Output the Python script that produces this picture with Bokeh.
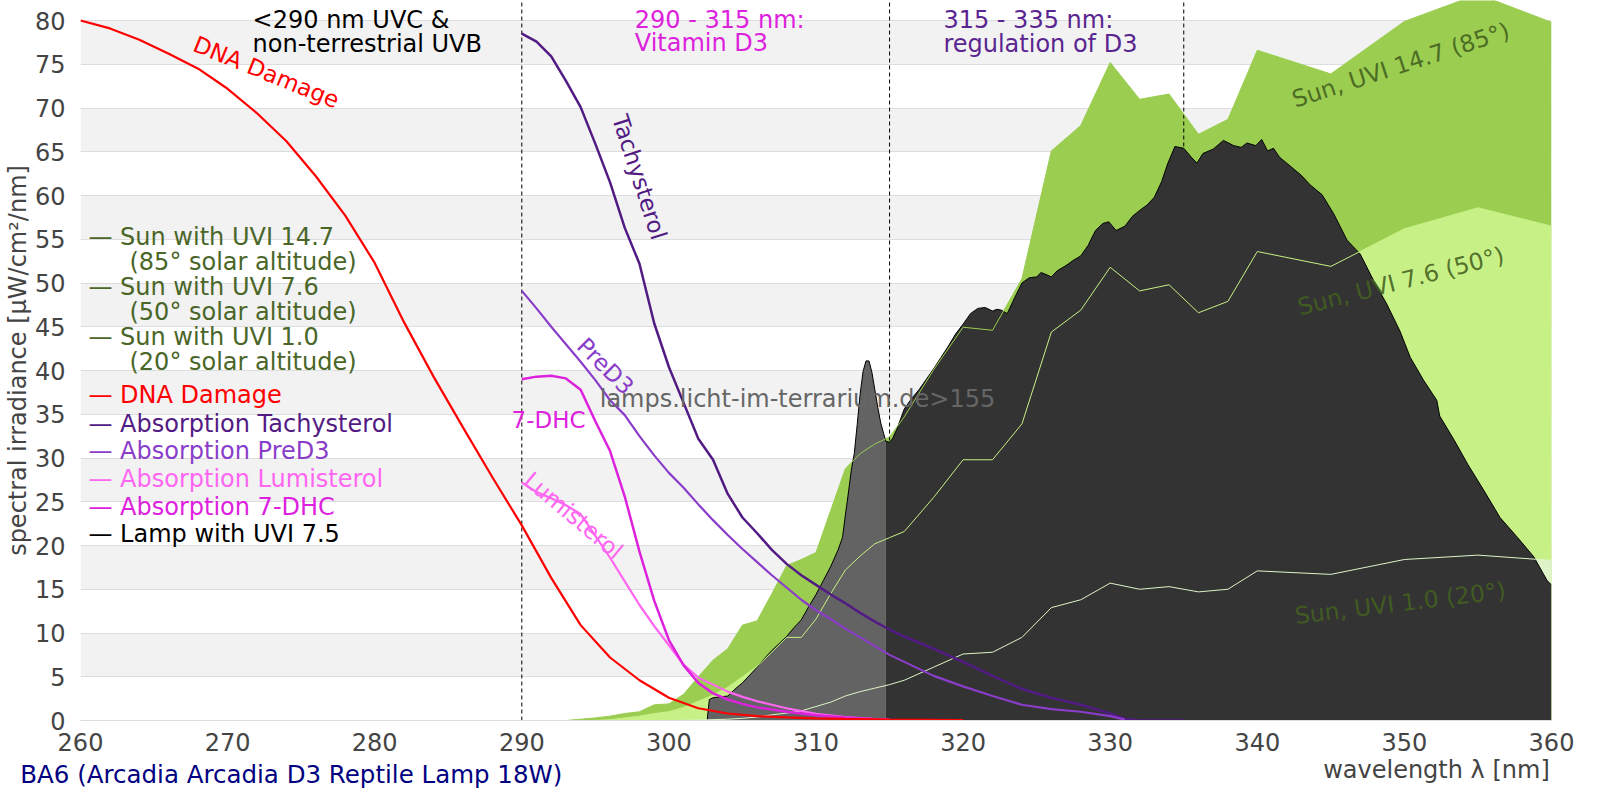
from bokeh.plotting import figure
from bokeh.models import Range1d, FixedTicker, Label, LinearAxis
from bokeh.embed import file_html
from bokeh.resources import INLINE

FONT = "DejaVu Sans"

# ---------------- data ----------------
x_ticks = [260, 270, 280, 290, 300, 310, 320, 330, 340, 350, 360]
y_ticks = [0, 5, 10, 15, 20, 25, 30, 35, 40, 45, 50, 55, 60, 65, 70, 75, 80]
band_edges = [290, 315, 335]

sun147_x = [293, 294, 295, 296, 297, 298, 299, 300, 301, 302, 303, 304, 305, 306, 307, 308, 309, 310,
            311, 312, 313, 314, 315, 316, 318, 320, 322, 324, 326, 328, 330, 332, 334, 336, 338, 340,
            345, 350, 355, 360]
sun147_y = [0, 0.15, 0.3, 0.5, 0.8, 1.0, 1.8, 1.9, 3.0, 5.0, 6.9, 8.2, 10.9, 11.4, 14.5, 17.7, 18.4, 19.2,
            24.0, 28.8, 30.5, 31.6, 32.4, 34.7, 40.1, 44.95, 44.6, 50.5, 65.1, 68.0, 75.2, 71.0, 71.6, 67.0,
            68.7, 76.6, 73.9, 79.9, 83.0, 79.8]

sun76_x = [295, 296, 297, 298, 299, 300, 301, 302, 303, 304, 305, 306, 307, 308, 309, 310, 311, 312,
           313, 314, 315, 316, 318, 320, 322, 324, 326, 328, 330, 332, 334, 336, 338, 340, 345, 350,
           355, 360]
sun76_y = [0, 0.1, 0.3, 0.5, 0.8, 1.0, 1.5, 2.2, 2.9, 3.8, 5.0, 6.2, 7.8, 9.5, 9.5, 11.6, 14.5, 17.2,
           18.8, 20.2, 20.9, 21.6, 25.5, 29.8, 29.8, 33.9, 44.4, 46.9, 51.8, 49.1, 49.8, 46.6, 47.9, 53.6,
           51.9, 56.2, 58.6, 56.5]

sun10_x = [300, 302, 304, 305, 306, 307, 308, 309, 310, 311, 312, 313, 314, 315, 316, 318, 320, 322,
           324, 326, 328, 330, 332, 334, 336, 338, 340, 345, 350, 355, 360]
sun10_y = [0, 0.05, 0.15, 0.25, 0.4, 0.65, 0.85, 1.1, 1.6, 2.1, 2.8, 3.3, 3.7, 4.1, 4.6, 6.1, 7.6, 7.8,
           9.5, 12.9, 13.8, 15.7, 15.0, 15.3, 14.7, 15.0, 17.1, 16.7, 18.4, 18.9, 18.3]

lamp_x = [302.6, 302.75, 303.0, 303.5, 304.0, 304.5, 305.0, 305.5, 306.0, 306.5, 307.0, 307.5, 308.0,
          308.5, 309.0, 309.5, 310.0, 310.5, 311.0, 311.5, 311.8, 312.0, 312.2, 312.4, 312.6, 312.8,
          313.0, 313.2, 313.4, 313.6, 313.8, 314.0, 314.2, 314.4, 314.6, 314.75, 315.0, 315.2, 315.5,
          316.0, 316.5, 317.0, 317.5, 318.0, 318.5, 319.0, 319.5, 320.0, 320.5, 321.0, 321.5, 322.0,
          322.3, 322.6, 323.0, 323.5, 324.0, 324.5, 325.0, 325.3, 325.6, 326.0, 326.4, 327.0, 327.5,
          328.0, 328.5, 329.0, 329.5, 329.9, 330.4, 331.0, 331.5, 332.0, 332.5, 333.0, 333.5, 333.9,
          334.4, 335.0, 335.5, 335.9, 336.3, 337.0, 337.7, 338.4, 338.9, 339.3, 339.9, 340.3, 340.7,
          341.1, 341.5, 342.0, 342.5, 343.0, 343.6, 344.4, 345.2, 346.1, 347.0, 347.9, 348.8, 349.7,
          350.4, 351.3, 352.2, 352.4, 353.4, 354.3, 355.4, 356.5, 357.7, 358.8, 359.7, 360.0]
lamp_y = [0, 2.4, 2.6, 2.7, 2.8, 3.6, 4.3, 5.2, 6.1, 7.1, 8.0, 8.8, 9.6, 10.6, 11.5, 13.0, 14.4, 16.0,
          17.6, 19.5, 20.9, 23.5, 26.0, 28.6, 30.5, 33.8, 37.3, 39.9, 41.1, 41.1, 39.8, 37.8, 35.8, 34.0,
          32.8, 31.9, 31.8, 32.2, 33.3, 35.6, 36.8, 37.8, 39.0, 40.2, 41.5, 42.8, 44.2, 45.3, 46.5, 47.1,
          47.2, 46.8, 47.0, 46.9, 46.5, 48.3, 50.0, 50.6, 50.7, 51.2, 51.0, 50.7, 51.4, 52.0, 52.6, 53.1,
          54.3, 56.0, 56.8, 57.0, 56.0, 56.5, 57.6, 58.3, 58.9, 59.8, 61.6, 63.6, 65.6, 65.4, 64.4, 63.7,
          64.8, 65.3, 66.3, 65.7, 65.5, 66.0, 65.7, 66.4, 65.1, 65.4, 64.4, 63.7, 63.0, 62.3, 61.2, 60.1,
          57.9, 54.9, 53.3, 50.3, 47.6, 44.5, 41.5, 38.9, 36.6, 34.8, 32.0, 29.3, 26.3, 23.2, 20.9, 18.7,
          16.0, 15.5]

dna_x = [260, 262, 264, 266, 268, 270, 272, 274, 276, 278, 280, 282, 284, 286, 288, 290, 292, 294, 296,
         298, 300, 302, 304, 306, 308, 310, 312, 315, 320]
dna_y = [80, 79.1, 77.8, 76.2, 74.5, 72.2, 69.4, 66.2, 62.2, 57.7, 52.3, 45.5, 39.3, 33.5, 27.8, 22.3,
         16.3, 10.9, 7.2, 4.6, 2.6, 1.4, 0.8, 0.5, 0.35, 0.25, 0.18, 0.1, 0.05]

tachy_x = [290, 291, 292, 293, 294, 295, 296, 297, 298, 299, 300, 301, 302, 303, 304, 305, 306, 307, 308,
           309, 310, 311, 312, 313, 314, 315, 316, 318, 320, 322, 324, 326, 328, 329, 330, 331, 332, 335]
tachy_y = [78.5, 77.6, 75.9, 73.1, 70.1, 65.9, 61.5, 56.3, 52.2, 45.4, 40.4, 36.3, 32.2, 29.8, 25.9, 23.2,
           21.4, 19.5, 17.9, 16.6, 15.5, 14.4, 13.4, 12.3, 11.3, 10.4, 9.6, 8.2, 6.7, 5.1, 3.6, 2.6, 1.8,
           1.3, 0.8, 0.2, 0.0, 0.0]

pred3_x = [290, 291, 292, 293, 294, 295, 296, 297, 298, 299, 300, 301, 302, 303, 304, 305, 306, 307, 308,
           309, 310, 311, 312, 313, 314, 315, 316, 318, 320, 322, 324, 326, 328, 330, 331]
pred3_y = [49.1, 47.1, 45.0, 43.0, 41.0, 38.9, 36.6, 34.9, 32.5, 30.3, 28.3, 26.6, 24.7, 22.9, 21.2, 19.6,
           18.1, 16.6, 15.2, 13.8, 12.6, 11.6, 10.5, 9.5, 8.5, 7.5, 6.7, 5.1, 3.9, 2.8, 1.8, 1.3, 1.0, 0.5,
           0.1]

dhc_x = [290, 291, 292, 293, 294, 295, 296, 297, 298, 299, 300, 301, 302, 303, 304, 305, 306, 308, 310,
         312, 314, 315]
dhc_y = [39.0, 39.3, 39.4, 39.1, 37.8, 34.2, 30.8, 25.6, 19.3, 13.7, 9.2, 6.3, 4.3, 3.1, 2.4, 1.9, 1.5,
         1.0, 0.6, 0.35, 0.15, 0.1]

lumi_x = [290, 291, 292, 293, 294, 295, 296, 297, 298, 299, 300, 301, 302, 303, 304, 305, 306, 307, 308,
          310, 312, 314, 315]
lumi_y = [27.2, 26.1, 25.4, 24.6, 23.6, 21.1, 18.6, 15.9, 13.2, 10.8, 8.6, 6.4, 4.9, 4.1, 3.3, 2.7, 2.2,
          1.8, 1.4, 0.75, 0.4, 0.15, 0.1]

x_title = "wavelength λ [nm]"
lamp_title = "BA6 (Arcadia Arcadia D3 Reptile Lamp 18W)"

# ---------------- styles ----------------
SUN147 = "#9ACD50"
SUN76 = "#C7F086"
SUN10 = "#DFF3C8"
LAMP_UVB = "#636363"
LAMP = "#333333"
DNA = "#FF0000"
TACHY = "#521B84"
PRED3 = "#8A3DC9"
LUMI = "#FF66F2"
DHC = "#DD22DD"
OLIVE = "#4A6628"
SUNLABEL = "#43601F"
AXIS_TXT = "#444444"

Y_TOP = 82.29
X_TITLE_POS = 352.18    # centre of the right-aligned x-axis caption
LAMP_TITLE_POS = 274.33  # centre of the lamp caption

p = figure(width=1600, height=800, output_backend="svg", toolbar_location=None,
           x_range=Range1d(260, 360), y_range=Range1d(0, Y_TOP),
           min_border_left=80, min_border_right=49, min_border_top=0, min_border_bottom=80)
p.background_fill_color = "white"
p.border_fill_color = "white"
p.outline_line_color = None

yt = FixedTicker(ticks=y_ticks)
xt = FixedTicker(ticks=x_ticks)
p.yaxis.ticker = yt
p.xaxis.ticker = xt
p.ygrid.ticker = yt
p.ygrid.grid_line_color = "#dddddd"
p.ygrid.band_fill_color = "#f2f2f2"
p.ygrid.band_fill_alpha = 1.0
p.xgrid.grid_line_color = None

for ax in (p.xaxis[0], p.yaxis[0]):
    ax.major_tick_line_color = None
    ax.minor_tick_line_color = None
    ax.major_label_text_font = FONT
    ax.major_label_text_font_size = "24px"
    ax.major_label_text_color = AXIS_TXT
p.yaxis.axis_line_color = None
p.xaxis.axis_line_color = "#dddddd"
p.xaxis.major_label_standoff = 6
p.yaxis.major_label_standoff = 9
p.yaxis.axis_label = "spectral irradiance [µW/cm²/nm]"
p.yaxis.axis_label_text_font = FONT
p.yaxis.axis_label_text_font_size = "24px"
p.yaxis.axis_label_text_font_style = "normal"
p.yaxis.axis_label_text_color = AXIS_TXT
p.yaxis.axis_label_standoff = 0


def caption_axis(pos, text, color, standoff, size="24px"):
    ax = LinearAxis(ticker=FixedTicker(ticks=[pos]), major_label_overrides={pos: text})
    ax.axis_line_color = None
    ax.major_tick_line_color = None
    ax.minor_tick_line_color = None
    ax.major_label_text_font = FONT
    ax.major_label_text_font_size = size
    ax.major_label_text_color = color
    ax.major_label_standoff = standoff
    p.add_layout(ax, "below")


caption_axis(X_TITLE_POS, x_title, AXIS_TXT, -4)
caption_axis(LAMP_TITLE_POS, lamp_title, "#000080", -33, size="24.5px")

# sun spectra (filled)
p.varea(x=sun147_x, y1=0, y2=sun147_y, fill_color=SUN147)
p.varea(x=sun76_x, y1=0, y2=sun76_y, fill_color=SUN76)
p.varea(x=sun10_x, y1=0, y2=sun10_y, fill_color=SUN10)

# band boundaries
p.segment(x0=band_edges, y0=[0] * len(band_edges), x1=band_edges, y1=[Y_TOP] * len(band_edges),
          line_color="black", line_width=1, line_dash="4 3")

# lamp spectrum: UVB part lighter
split = max(i for i, v in enumerate(lamp_x) if v < band_edges[1])
p.varea(x=lamp_x[:split + 1], y1=0, y2=lamp_y[:split + 1], fill_color=LAMP_UVB)
p.varea(x=lamp_x[split:], y1=0, y2=lamp_y[split:], fill_color=LAMP)
p.line(lamp_x, lamp_y, line_color="black", line_width=1)

# sun outlines
p.line(sun147_x, sun147_y, line_color=SUN147, line_width=1)
p.line(sun76_x, sun76_y, line_color=SUN76, line_width=1)
p.line(sun10_x, sun10_y, line_color=SUN10, line_width=1)

# action / absorption spectra
p.line(tachy_x, tachy_y, line_color=TACHY, line_width=2.5)
p.line(pred3_x, pred3_y, line_color=PRED3, line_width=2.2)
p.line(lumi_x, lumi_y, line_color=LUMI, line_width=2.2)
p.line(dhc_x, dhc_y, line_color=DHC, line_width=2.5)
p.line(dna_x, dna_y, line_color=DNA, line_width=2.2)


def lab(x, y, text, color, size="24px", align="left", angle=0, alpha=1.0):
    p.add_layout(Label(x=x, y=y, text=text, text_color=color, text_font=FONT,
                       text_font_size=size, text_align=align, text_baseline="middle",
                       angle=angle, angle_units="deg", text_alpha=alpha))


# legend
legend_rows = [
    (260.54, 55.25, "— Sun with UVI 14.7", OLIVE),
    (263.33, 52.39, "(85° solar altitude)", OLIVE),
    (260.54, 49.53, "— Sun with UVI 7.6", OLIVE),
    (263.33, 46.68, "(50° solar altitude)", OLIVE),
    (260.54, 43.82, "— Sun with UVI 1.0", OLIVE),
    (263.33, 40.96, "(20° solar altitude)", OLIVE),
    (260.54, 37.19, "— DNA Damage", DNA),
    (260.54, 33.88, "— Absorption Tachysterol", TACHY),
    (260.54, 30.79, "— Absorption PreD3", PRED3),
    (260.54, 27.59, "— Absorption Lumisterol", LUMI),
    (260.54, 24.39, "— Absorption 7-DHC", DHC),
    (260.54, 21.31, "— Lamp with UVI 7.5", "black"),
]
for x, y, t, c in legend_rows:
    lab(x, y, t, c)

# region captions
lab(271.70, 80.06, "<290 nm UVC &", "black")
lab(271.70, 77.33, "non-terrestrial UVB", "black")
lab(297.68, 80.10, "290 - 315 nm:", DHC)
lab(297.68, 77.40, "Vitamin D3", DHC)
lab(318.66, 80.10, "315 - 335 nm:", "#5A2590")
lab(318.66, 77.33, "regulation of D3", "#5A2590")

# curve labels
lab(272.63, 74.10, "DNA Damage", DNA, size="23px", align="center", angle=-22)
lab(298.00, 62.10, "Tachysterol", TACHY, size="23px", align="center", angle=-72)
lab(295.69, 40.50, "PreD3", PRED3, size="23px", align="center", angle=-45)
lab(289.30, 34.40, "7-DHC", DHC, size="23px")
lab(293.51, 23.43, "Lumisterol", LUMI, size="23px", align="center", angle=-40)
lab(349.75, 74.90, "Sun, UVI 14.7 (85°)", SUNLABEL, size="23.5px", align="center", angle=18, alpha=0.9)
lab(349.77, 50.20, "Sun, UVI 7.6 (50°)", SUNLABEL, size="23.5px", align="center", angle=14.5, alpha=0.9)
lab(349.72, 13.40, "Sun, UVI 1.0 (20°)", SUNLABEL, size="23.5px", align="center", angle=7, alpha=0.9)

# watermark
lab(308.74, 36.80, "lamps.licht-im-terrarium.de>155", "#666666", size="24px", align="center")

with open("out.html", "w", encoding="utf-8") as f:
    f.write(file_html(p, INLINE))
